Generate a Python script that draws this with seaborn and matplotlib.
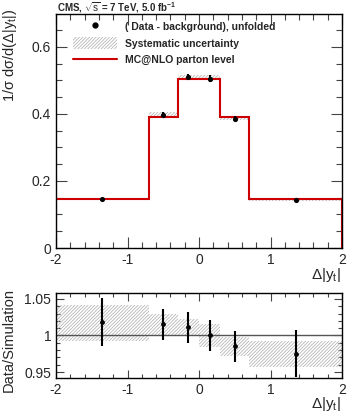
import numpy as np
import matplotlib
matplotlib.use("Agg")
import matplotlib.pyplot as plt
import seaborn as sns
from matplotlib.lines import Line2D
from matplotlib.patches import Patch
from matplotlib.ticker import MultipleLocator, FuncFormatter

# bin edges in delta|y_t|
bin_edges = [-2.0, -0.7, -0.3, 0.0, 0.3, 0.7, 2.0]
# points are drawn at these x positions
data_x = [-1.35, -0.5, -0.15, 0.15, 0.5, 1.35]

# MC@NLO parton level (normalised)
mc_vals = [0.145, 0.391, 0.505, 0.505, 0.392, 0.145]
# (Data - background), unfolded
data_vals = [0.147, 0.398, 0.510, 0.505, 0.386, 0.142]
data_err = [0.003, 0.007, 0.010, 0.010, 0.007, 0.003]
# systematic band in the top panel
syst_lo = [0.144, 0.391, 0.501, 0.500, 0.382, 0.141]
syst_hi = [0.149, 0.405, 0.516, 0.515, 0.392, 0.146]

# ratio panel
ratio_vals = [1.018, 1.015, 1.011, 1.000, 0.985, 0.975]
ratio_err = [0.033, 0.021, 0.021, 0.021, 0.021, 0.032]
ratio_syst_lo = [0.993, 1.001, 0.999, 0.984, 0.972, 0.957]
ratio_syst_hi = [1.042, 1.029, 1.023, 1.016, 0.998, 0.992]

HATCH = '//////////'
HATCH_COL = '#ababab'

sns.set_style("ticks")
plt.rcParams['font.family'] = ['Liberation Sans', 'DejaVu Sans']
plt.rcParams['axes.unicode_minus'] = False
plt.rcParams['mathtext.fontset'] = 'custom'
plt.rcParams['mathtext.rm'] = 'Liberation Sans'
plt.rcParams['mathtext.it'] = 'Liberation Sans'
plt.rcParams['mathtext.bf'] = 'Liberation Sans:bold'
plt.rcParams['hatch.linewidth'] = 0.5
plt.rcParams['hatch.color'] = HATCH_COL

fig = plt.figure(figsize=(3.49, 4.15), dpi=100)
ax = fig.add_axes([0.1605, 0.4024, 0.8195, 0.5639])
axr = fig.add_axes([0.1605, 0.0892, 0.8195, 0.2048])


def band(a, lo, hi):
    lo_ext = list(lo) + [lo[-1]]
    hi_ext = list(hi) + [hi[-1]]
    a.fill_between(bin_edges, lo_ext, hi_ext, step='post', facecolor='none',
                   edgecolor=HATCH_COL, hatch=HATCH, linewidth=0)


def style_axis(a):
    for s in a.spines.values():
        s.set_visible(True)
        s.set_linewidth(1.0)
        s.set_color('black')
    a.tick_params(which='both', direction='in', top=True, right=True,
                  labelsize=10, width=0.8, color='#444444')
    a.tick_params(which='major', length=8)
    a.tick_params(which='minor', length=4)
    a.xaxis.set_major_locator(MultipleLocator(1))
    a.xaxis.set_minor_locator(MultipleLocator(0.2))
    a.set_xlim(-2, 2)


# top panel
band(ax, syst_lo, syst_hi)
ax.stairs(mc_vals, bin_edges, color='#cc0000', linewidth=1.5)
ax.errorbar(data_x, data_vals, yerr=data_err, fmt='none', ecolor='black',
            elinewidth=1.5, capsize=0)
sns.scatterplot(x=data_x, y=data_vals, ax=ax, color='black', s=14,
                edgecolor='black', linewidth=0, zorder=5)
style_axis(ax)
ax.set_ylim(0, 0.698)
ax.yaxis.set_major_locator(MultipleLocator(0.2))
ax.yaxis.set_minor_locator(MultipleLocator(0.05))
ax.yaxis.set_major_formatter(FuncFormatter(lambda v, p: f"{v:g}"))
ax.set_ylabel(r"1/$\sigma$ d$\sigma$/d($\Delta$|y$_{t}$|)", fontsize=10.5)
ax.yaxis.set_label_coords(-0.128, 0.825)
ax.set_xlabel(r"$\Delta$|y$_{t}$|", fontsize=11)
ax.xaxis.set_label_coords(0.945, -0.075)
fig.text(0.163, 0.972, r"CMS, $\sqrt{s}$ = 7 TeV, 5.0 fb$^{\mathbf{-1}}$",
         fontsize=7, fontweight='bold', va='baseline')

handles = [
    Line2D([], [], marker='o', color='black', linestyle='none', markersize=3.5),
    Patch(facecolor='none', edgecolor=HATCH_COL, hatch=HATCH, linewidth=0),
    Line2D([], [], color='#cc0000', linewidth=1.5),
]
labels = ["( Data - background), unfolded", "Systematic uncertainty",
          "MC@NLO parton level"]
ax.legend(handles, labels, loc='upper left', bbox_to_anchor=(0.035, 1.004),
          frameon=False, prop={'weight': 'bold', 'size': 7.5},
          handlelength=4.2, handleheight=1.4, handletextpad=0.75,
          labelspacing=0.45, borderpad=0.2)

# ratio panel
band(axr, ratio_syst_lo, ratio_syst_hi)
axr.axhline(1.0, color='#555555', linewidth=1.0)
axr.errorbar(data_x, ratio_vals, yerr=ratio_err, fmt='none', ecolor='black',
             elinewidth=1.5, capsize=0)
sns.scatterplot(x=data_x, y=ratio_vals, ax=axr, color='black', s=12,
                linewidth=0, zorder=5)
style_axis(axr)
axr.set_ylim(0.942, 1.058)
axr.yaxis.set_major_locator(MultipleLocator(0.05))
axr.yaxis.set_minor_locator(MultipleLocator(0.01))
axr.yaxis.set_major_formatter(FuncFormatter(lambda v, p: f"{v:g}"))
axr.tick_params(which='major', length=6)
axr.tick_params(which='minor', length=3)
axr.set_ylabel("Data/Simulation", fontsize=10.5)
axr.yaxis.set_label_coords(-0.14, 0.45)
axr.set_xlabel(r"$\Delta$|y$_{t}$|", fontsize=11)
axr.xaxis.set_label_coords(0.945, -0.2)

fig.savefig("out.png", dpi=100)
